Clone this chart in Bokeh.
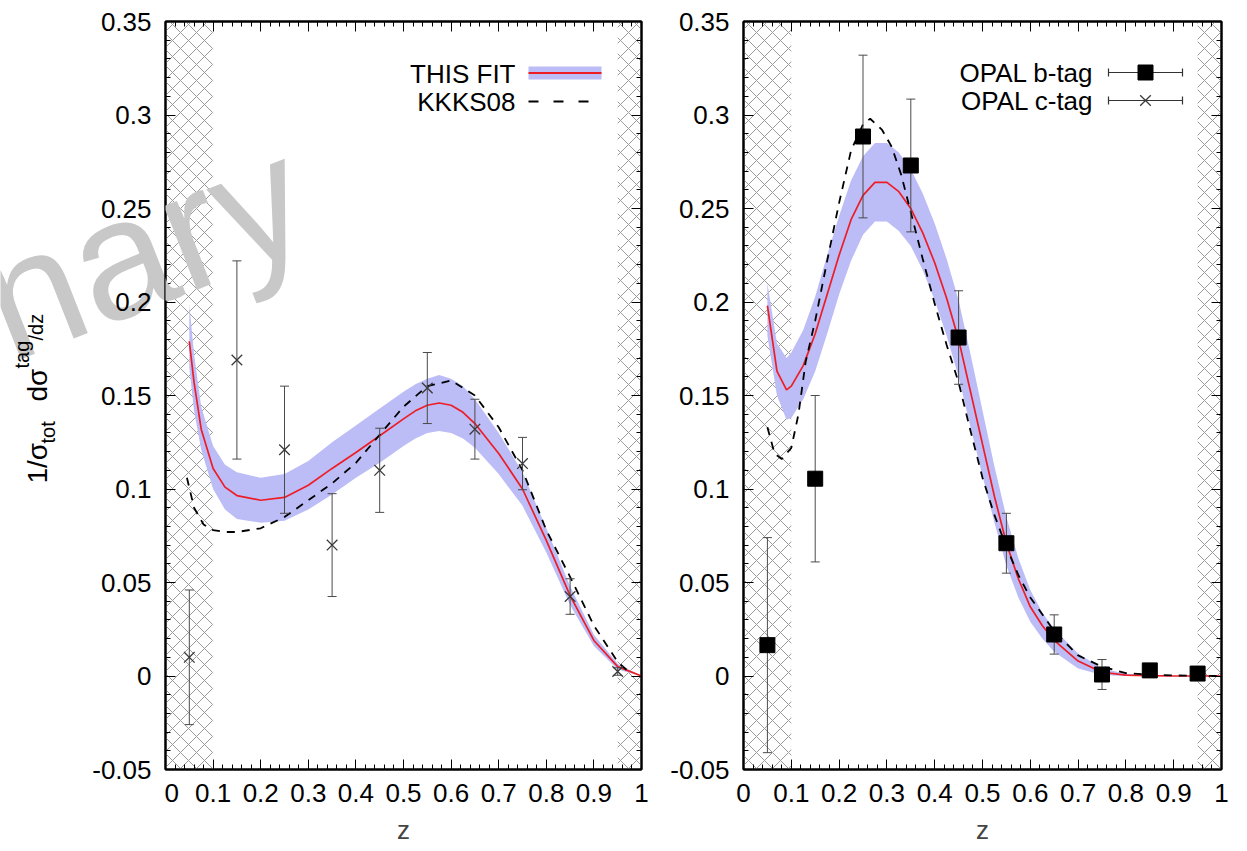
import numpy as np
from bokeh.plotting import figure
from bokeh.layouts import row, column
from bokeh.models import FixedTicker, CustomJSTickFormatter, LinearAxis, Label, Range1d
from bokeh.embed import file_html
from bokeh.resources import INLINE

# ---------------- data ----------------
x_ticks = [0.0, 0.1, 0.2, 0.3, 0.4, 0.5, 0.6, 0.7, 0.8, 0.9, 1.0]
x_tick_labels = ["0", "0.1", "0.2", "0.3", "0.4", "0.5", "0.6", "0.7", "0.8", "0.9", "1"]
y_ticks = [-0.05, 0.0, 0.05, 0.1, 0.15, 0.2, 0.25, 0.3, 0.35]
y_tick_labels = ["-0.05", "0", "0.05", "0.1", "0.15", "0.2", "0.25", "0.3", "0.35"]

excluded_regions = [(0.0, 0.1), (0.95, 1.0)]

data_z = [0.05, 0.15, 0.25, 0.35, 0.45, 0.55, 0.65, 0.75, 0.85, 0.95]
ctag_val = [0.010, 0.169, 0.121, 0.070, 0.110, 0.154, 0.132, 0.1136, 0.0425, 0.0024]
ctag_err = [0.036, 0.053, 0.034, 0.0275, 0.0225, 0.019, 0.016, 0.014, 0.0095, 0.002]
btag_val = [0.0165, 0.1055, 0.2885, 0.273, 0.181, 0.071, 0.0222, 0.0008, 0.003, 0.0013]
btag_err = [0.0575, 0.0445, 0.0435, 0.0355, 0.025, 0.016, 0.0105, 0.008, 0.003, 0.0012]

fit_c_z = [0.05, 0.06, 0.075, 0.1, 0.125, 0.15, 0.2, 0.25, 0.3, 0.35, 0.4, 0.45, 0.5, 0.525,
           0.55, 0.575, 0.6, 0.625, 0.65, 0.7, 0.75, 0.8, 0.85, 0.9, 0.95, 1.0]
fit_c_mid = [0.179, 0.157, 0.132, 0.111, 0.101, 0.0965, 0.094, 0.0955, 0.102, 0.111, 0.1195,
             0.1285, 0.1375, 0.1418, 0.1448, 0.146, 0.1448, 0.1410, 0.135, 0.119, 0.100, 0.0725,
             0.043, 0.019, 0.005, 0.0]
fit_c_lo = [0.165, 0.142, 0.121, 0.100, 0.089, 0.084, 0.082, 0.083, 0.089, 0.097, 0.106, 0.114,
            0.123, 0.127, 0.130, 0.131, 0.130, 0.127, 0.122, 0.108, 0.091, 0.066, 0.038, 0.016,
            0.0035, 0.0]
fit_c_hi = [0.199, 0.172, 0.144, 0.123, 0.113, 0.109, 0.106, 0.108, 0.115, 0.125, 0.134, 0.143,
            0.152, 0.156, 0.159, 0.161, 0.159, 0.155, 0.148, 0.130, 0.109, 0.079, 0.048, 0.022,
            0.0065, 0.0]

kkks_c_z = [0.045, 0.06, 0.08, 0.1, 0.125, 0.15, 0.2, 0.25, 0.3, 0.35, 0.4, 0.45, 0.5, 0.55,
            0.6, 0.65, 0.7, 0.75, 0.8, 0.85, 0.9, 0.95, 0.97]
kkks_c = [0.106, 0.090, 0.081, 0.078, 0.077, 0.077, 0.079, 0.085, 0.094, 0.103, 0.114, 0.129,
          0.144, 0.155, 0.158, 0.150, 0.133, 0.110, 0.078, 0.053, 0.027, 0.0075, 0.003]

fit_b_z = [0.05, 0.07, 0.09, 0.1, 0.125, 0.15, 0.175, 0.2, 0.225, 0.25, 0.275, 0.3, 0.325,
           0.35, 0.375, 0.4, 0.425, 0.45, 0.475, 0.5, 0.525, 0.55, 0.575, 0.6, 0.625, 0.65,
           0.7, 0.75, 0.8, 0.85, 0.9, 1.0]
fit_b_mid = [0.198, 0.163, 0.153, 0.155, 0.166, 0.183, 0.204, 0.225, 0.244, 0.257, 0.264, 0.264,
             0.259, 0.250, 0.237, 0.221, 0.202, 0.180, 0.152, 0.124, 0.096, 0.071, 0.052, 0.037,
             0.027, 0.019, 0.008, 0.002, 0.0005, 0.0002, 0.0, 0.0]
fit_b_lo = [0.182, 0.150, 0.137, 0.138, 0.148, 0.163, 0.183, 0.204, 0.222, 0.236, 0.243, 0.243,
            0.238, 0.230, 0.217, 0.201, 0.182, 0.160, 0.133, 0.107, 0.082, 0.059, 0.042, 0.029,
            0.020, 0.013, 0.004, 0.0005, 0.0, 0.0, 0.0, 0.0]
fit_b_hi = [0.210, 0.178, 0.170, 0.173, 0.185, 0.203, 0.225, 0.246, 0.265, 0.278, 0.285, 0.285,
            0.280, 0.271, 0.258, 0.242, 0.223, 0.201, 0.172, 0.142, 0.112, 0.085, 0.063, 0.046,
            0.034, 0.025, 0.012, 0.004, 0.0012, 0.0004, 0.0, 0.0]

kkks_b_z = [0.05, 0.065, 0.08, 0.1, 0.115, 0.13, 0.15, 0.175, 0.2, 0.225, 0.25, 0.265, 0.29,
            0.31, 0.33, 0.35, 0.375, 0.4, 0.425, 0.45, 0.475, 0.5, 0.525, 0.55, 0.575, 0.6,
            0.65, 0.7, 0.75, 0.8, 0.85, 0.9, 0.95, 1.0]
kkks_b = [0.133, 0.119, 0.116, 0.122, 0.140, 0.168, 0.190, 0.222, 0.253, 0.281, 0.295, 0.298,
          0.292, 0.283, 0.268, 0.248, 0.223, 0.199, 0.177, 0.157, 0.131, 0.106, 0.086, 0.069,
          0.054, 0.042, 0.024, 0.011, 0.005, 0.0015, 0.0008, 0.0003, 0.0001, 0.0]

# ---------------- layout / style ----------------
FONT = "Liberation Sans"
H = 848
FRAME_TOP = 21
FRAME_H = 748
BOTTOM = H - FRAME_TOP - FRAME_H
WA = 164                       # strip with y tick labels / y-axis title of the left panel
W1, BL1, BR1 = 496, 1, 19      # left panel (frame starts at global x = 165)
W2, BL2, BR2 = 587, 83, 26     # right panel (frame starts at global x = 743)
GX1 = WA + BL1                 # global x of the left frame
GX2 = WA + W1 + BL2            # global x of the right frame
X0, X1 = x_ticks[0], x_ticks[-1]
Y0, Y1 = y_ticks[0], y_ticks[-1]

BAND = "#bcbcf6"
RED = "#ee1d25"
ERR = "#4a4a4a"

x_minor = np.round(np.arange(X0, X1 + 1e-9, 0.02), 4).tolist()
y_minor = np.round(np.arange(Y0, Y1 + 1e-9, 0.01), 4).tolist()

FMT_CODE = "const i = tvals.findIndex(t => Math.abs(t - tick) < 1e-6); return i >= 0 ? tlabs[i] : '';"


def vy(py):
    """global pixel row -> y data value (shared by all three figures)"""
    return Y1 - (py - FRAME_TOP) / FRAME_H * (Y1 - Y0)


def style_axis(ax, ticks, minor, labels):
    ax.ticker = FixedTicker(ticks=ticks, minor_ticks=minor)
    if labels is None:
        ax.formatter = CustomJSTickFormatter(code="return '';")
        ax.major_label_text_font_size = "1px"
        ax.major_label_standoff = 0
    else:
        ax.formatter = CustomJSTickFormatter(args=dict(tvals=ticks, tlabs=labels), code=FMT_CODE)
        ax.major_label_text_font_size = "26px"
        ax.major_label_text_font = FONT
        ax.major_label_text_color = "black"
    ax.major_tick_in = 10
    ax.major_tick_out = 0
    ax.minor_tick_in = 5
    ax.minor_tick_out = 0
    ax.major_tick_line_color = "black"
    ax.minor_tick_line_color = "black"
    ax.major_tick_line_width = 1
    ax.minor_tick_line_width = 1
    ax.axis_line_color = "black"
    ax.axis_line_width = 2


def make_panel(width, bl, br, y_labels):
    p = figure(width=width, height=H, x_range=Range1d(X0, X1), y_range=Range1d(Y0, Y1),
               output_backend="svg", toolbar_location=None,
               min_border_left=bl, min_border_right=br, min_border_top=FRAME_TOP,
               min_border_bottom=BOTTOM)
    p.grid.visible = False
    p.background_fill_color = "white"
    p.border_fill_color = "white"
    p.outline_line_color = "black"
    p.outline_line_width = 2
    xa = p.xaxis[0]
    ya = p.yaxis[0]
    style_axis(xa, x_ticks, x_minor, x_tick_labels)
    style_axis(ya, y_ticks, y_minor, y_labels)
    xa.major_label_standoff = 14
    ya.major_label_standoff = 14
    xa.axis_label = "z"
    xa.axis_label_text_font = FONT
    xa.axis_label_text_font_size = "26px"
    xa.axis_label_text_font_style = "normal"
    xa.axis_label_standoff = 10
    top = LinearAxis()
    style_axis(top, x_ticks, x_minor, None)
    p.add_layout(top, "above")
    right = LinearAxis()
    style_axis(right, y_ticks, y_minor, None)
    p.add_layout(right, "right")
    # excluded (hatched) regions
    for lo, hi in excluded_regions:
        p.quad(left=[lo], right=[hi], bottom=[Y0], top=[Y1], fill_color=None, line_color=None,
               hatch_pattern="diagonal_cross", hatch_color="#9a9a9a", hatch_scale=16,
               hatch_weight=1.0)
    return p


def errorbars(p, z, val, err, color):
    v = np.array(val)
    e = np.array(err)
    p.segment(x0=z, y0=(v - e).tolist(), x1=z, y1=(v + e).tolist(), line_color=color, line_width=1)
    p.scatter(x=z, y=(v - e).tolist(), marker="dash", size=9, line_color=color, line_width=1)
    p.scatter(x=z, y=(v + e).tolist(), marker="dash", size=9, line_color=color, line_width=1)


def gx(px, gleft, fw):
    """global pixel column -> x data value of a panel whose frame starts at gleft"""
    return X0 + (px - gleft) / fw * (X1 - X0)


WM_TEXT = "nary"
WM_STYLE = dict(angle=21.5, angle_units="deg", text_align="left", text_baseline="alphabetic",
                text_font=FONT, text_font_size="170px", text_color="#c8c8c8")
WM_PX, WM_PY = -12, 308

# ---------------- strip with y-axis texts of the left panel ----------------
pa = figure(width=WA, height=H, x_range=Range1d(0, WA), y_range=Range1d(vy(H), vy(0)),
            output_backend="svg", toolbar_location=None, x_axis_location=None,
            y_axis_location=None, min_border=0, min_border_left=0, min_border_right=0,
            min_border_top=0, min_border_bottom=0)
pa.xgrid.visible = False
pa.ygrid.visible = False
pa.outline_line_color = None
pa.background_fill_color = "white"
pa.border_fill_color = "white"
# watermark part over the strip, drawn beneath the axis texts
pa.add_layout(Label(x=WM_PX, y=vy(WM_PY), text=WM_TEXT, level="underlay", **WM_STYLE))
for t, lab in zip(y_ticks, y_tick_labels):
    pa.add_layout(Label(x=GX1 - 14, y=t, text=lab, text_align="right", text_baseline="middle",
                        text_font=FONT, text_font_size="26px", text_color="black"))
for txt, bx, by, fs in [("1/σ", 37, 483, 28), ("tot", 47, 443, 20), ("dσ", 37, 401, 28),
                        ("tag", 21, 368, 20), ("/dz", 35, 340, 20)]:
    pa.add_layout(Label(x=bx, y=vy(by), text=txt, angle=90, angle_units="deg", text_align="left",
                        text_baseline="alphabetic", text_font=FONT, text_font_size=f"{fs}px",
                        text_color="black"))

# ---------------- left panel (c-tag) ----------------
p1 = make_panel(W1, BL1, BR1, None)
fw1 = W1 - BL1 - BR1
p1.varea(x=fit_c_z, y1=fit_c_lo, y2=fit_c_hi, fill_color=BAND)
p1.line(fit_c_z, fit_c_mid, line_color=RED, line_width=1.7)
p1.line(kkks_c_z, kkks_c, line_color="black", line_width=1.8, line_dash="8 7")
errorbars(p1, data_z, ctag_val, ctag_err, ERR)
p1.scatter(x=data_z, y=ctag_val, marker="x", size=15, line_color="#3a3a3a", line_width=1.3)

# legend (left)
for txt, py in [("THIS FIT", 73), ("KKKS08", 101)]:
    p1.add_layout(Label(x=gx(515, GX1, fw1), y=vy(py), text=txt, text_align="right",
                        text_baseline="middle", text_font=FONT, text_font_size="26px",
                        text_color="black"))
a0, a1 = gx(528, GX1, fw1), gx(601, GX1, fw1)
p1.varea(x=[a0, a1], y1=[vy(79), vy(79)], y2=[vy(66), vy(66)], fill_color=BAND)
p1.line([a0, a1], [vy(72.5), vy(72.5)], line_color=RED, line_width=2)
p1.line([gx(528, GX1, fw1), gx(592, GX1, fw1)], [vy(101), vy(101)], line_color="black",
        line_width=1.8, line_dash="10 15")

# watermark (part lying over the left frame)
p1.add_layout(Label(x=gx(WM_PX, GX1, fw1), y=vy(WM_PY), text=WM_TEXT, level="overlay",
                    **WM_STYLE))

# ---------------- right panel (b-tag) ----------------
p2 = make_panel(W2, BL2, BR2, y_tick_labels)
fw2 = W2 - BL2 - BR2
p2.varea(x=fit_b_z, y1=fit_b_lo, y2=fit_b_hi, fill_color=BAND)
p2.line(fit_b_z, fit_b_mid, line_color=RED, line_width=1.7)
p2.line(kkks_b_z, kkks_b, line_color="black", line_width=1.8, line_dash="8 7")
errorbars(p2, data_z, btag_val, btag_err, ERR)
p2.scatter(x=data_z, y=btag_val, marker="square", size=15, fill_color="black", line_color="black")

# legend (right)
for txt, py, mk in [("OPAL b-tag", 72, "square"), ("OPAL c-tag", 100, "x")]:
    p2.add_layout(Label(x=gx(1093, GX2, fw2), y=vy(py), text=txt, text_align="right",
                        text_baseline="middle", text_font=FONT, text_font_size="26px",
                        text_color="black"))
    s0, s1, sc = gx(1108, GX2, fw2), gx(1182, GX2, fw2), gx(1145, GX2, fw2)
    sy = vy(py)
    p2.line([s0, s1], [sy, sy], line_color="#333333", line_width=1.2)
    p2.scatter(x=[s0, s1], y=[sy, sy], marker="dash", angle=np.pi / 2, size=8,
               line_color="#333333", line_width=1.2)
    if mk == "square":
        p2.scatter(x=[sc], y=[sy], marker="square", size=15, fill_color="black", line_color="black")
    else:
        p2.scatter(x=[sc], y=[sy], marker="x", size=15, line_color="#3a3a3a", line_width=1.3)

layout = row(column(pa), p1, p2)
open("out.html", "w").write(file_html(layout, INLINE))
